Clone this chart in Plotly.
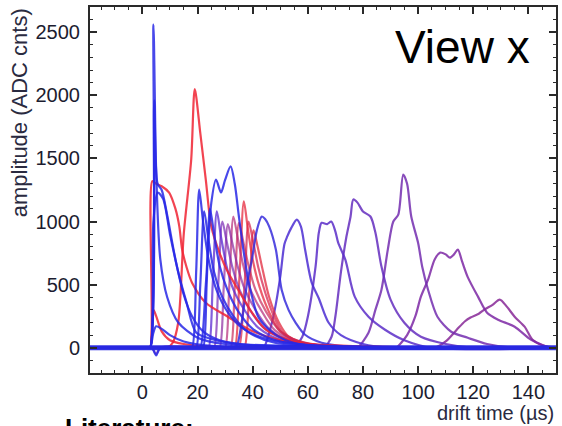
import plotly.graph_objects as go

# ---------------- data ----------------
# drift time (µs) / amplitude (ADC cnts) for each recorded waveform
w01_t = [-19, 1.8, 2.8, 4.0, 5.0, 6.5, 9, 13, 20, 30, 150]
w01_a = [0, 0, 0, 2560, 1400, 700, 400, 200, 80, 30, 0]
w02_t = [-19, 1.8, 2.8, 4.3, 5.5, 7, 9, 12, 15, 18, 22, 28, 40, 150]
w02_a = [0, 0, 0, 1960, 1300, 1250, 1050, 700, 420, 250, 130, 60, 20, 0]
w03_t = [-19, 1.8, 2.8, 4, 5.5, 7.5, 10, 13, 16, 19.5, 25, 35, 150]
w03_a = [0, 0, 0, 1000, 1230, 1180, 900, 600, 360, 120, 70, 30, 0]
w04_t = [-19, 1.8, 2.8, 4, 5, 7, 10, 15, 25, 150]
w04_a = [0, 0, 0, 120, 170, 150, 100, 50, 15, 0]
w05_t = [-19, 1.8, 2.8, 3.6, 5, 7, 9.7, 12, 13.4, 14.4, 16, 18, 23, 31, 40, 55, 150]
w05_a = [0, 0, 0, 1320, 1300, 1280, 1230, 1100, 960, 780, 640, 516, 357, 246, 130, 40, 0]
w06_t = [-19, 1.8, 2.8, 4, 5, 7, 10, 15, 25, 150]
w06_a = [0, 0, 0, 300, 250, 130, 60, 30, 10, 0]
w07_t = [-19, 8, 9, 11, 13, 15, 17.7, 19, 21, 23, 25, 28, 31, 35, 40, 45, 55, 70, 150]
w07_a = [0, 0, 0, 40, 200, 900, 1490, 2050, 1700, 1330, 960, 750, 600, 450, 270, 140, 50, 10, 0]
w08_t = [-19, 2.5, 3.5, 5, 6.5, 17, 18, 19.5, 20.6, 22, 24, 27, 31, 36, 45, 60, 150]
w08_a = [0, 0, 0, -60, 0, 0, 0, 600, 1254, 1000, 700, 450, 280, 160, 70, 20, 0]
w09_t = [-19, 18.5, 19.5, 21, 22.4, 24, 26, 29, 33, 38, 48, 150]
w09_a = [0, 0, 0, 500, 1080, 850, 600, 400, 250, 130, 40, 0]
w10_t = [-19, 20, 21, 23, 25, 26.7, 28.5, 30, 32, 33.5, 35, 36.8, 38.6, 42, 46, 52, 60, 150]
w10_a = [0, 0, 0, 500, 1150, 1333, 1230, 1330, 1437, 1300, 1040, 750, 516, 246, 143, 60, 20, 0]
w11_t = [-19, 21, 22, 23.3, 24.5, 26, 28, 31, 35, 40, 50, 150]
w11_a = [0, 0, 0, 500, 1100, 900, 650, 450, 280, 150, 50, 0]
w12_t = [-19, 23, 24, 25.5, 27, 28.5, 30.5, 33, 37, 42, 52, 150]
w12_a = [0, 0, 0, 500, 1080, 880, 650, 460, 300, 160, 50, 0]
w13_t = [-19, 2.5, 3.5, 5, 6.5, 25, 26, 27.5, 29, 30.5, 32.5, 35, 39, 44, 54, 150]
w13_a = [0, 0, 0, -50, 0, 0, 0, 500, 1000, 850, 650, 470, 300, 160, 50, 0]
w14_t = [-19, 27, 28, 29.5, 31, 32.5, 34.5, 37, 41, 46, 55, 150]
w14_a = [0, 0, 0, 480, 980, 840, 650, 470, 300, 150, 40, 0]
w15_t = [-19, 29, 30, 31.5, 33, 34.5, 36.5, 39, 43, 48, 57, 150]
w15_a = [0, 0, 0, 480, 1040, 880, 660, 470, 300, 140, 40, 0]
w16_t = [-19, 31, 32, 33.5, 35, 36.5, 38.5, 41, 45, 50, 58, 150]
w16_a = [0, 0, 0, 480, 990, 850, 650, 460, 280, 130, 40, 0]
w17_t = [-19, 32.5, 33.5, 35.2, 36.8, 38.2, 40, 42.5, 46, 50, 58, 150]
w17_a = [0, 0, 0, 560, 1160, 950, 700, 480, 280, 130, 40, 0]
w18_t = [-19, 34, 35, 37, 38.5, 40, 42, 44.5, 47.5, 51, 60, 150]
w18_a = [0, 0, 0, 480, 1000, 860, 640, 440, 260, 119, 35, 0]
w19_t = [-19, 36, 37, 38.8, 40.3, 41.8, 43.8, 46, 49.5, 53, 62, 150]
w19_a = [0, 0, 0, 460, 930, 800, 600, 400, 200, 90, 25, 0]
w20_t = [-19, 33, 34, 36, 38, 39.7, 41.5, 43.3, 44.5, 46, 48.4, 50.5, 53, 55.6, 59, 65, 75, 150]
w20_a = [0, 0, 0, 200, 516, 698, 930, 1040, 1020, 960, 778, 460, 300, 198, 103, 40, 10, 0]
w21_t = [-19, 43, 44, 46, 48, 50, 51.5, 52.5, 54, 56, 57.5, 59, 61.4, 64, 67.5, 72, 80, 90, 150]
w21_a = [0, 0, 0, 120, 300, 563, 820, 880, 950, 1016, 960, 778, 516, 390, 200, 100, 30, 0, 0]
w22_t = [-19, 54, 55, 58, 60, 62.8, 64, 65, 67, 68.5, 70, 71, 73.6, 77, 82, 88, 95, 105, 150]
w22_a = [0, 0, 0, 87, 246, 643, 913, 990, 980, 1000, 920, 833, 698, 405, 246, 143, 60, 0, 0]
w23_t = [-19, 65, 66, 68.6, 70, 72, 74, 75.5, 76.5, 78, 80, 82.7, 84.5, 86.7, 90, 95, 101, 110, 120, 150]
w23_a = [0, 0, 0, 87, 250, 600, 881, 1040, 1175, 1150, 1080, 1040, 913, 643, 381, 198, 87, 30, 0, 0]
w24_t = [-19, 77, 78, 82, 84.5, 86.7, 89, 91, 92.8, 94.6, 96, 97.5, 100, 101.5, 103.6, 107, 112, 118, 125, 135, 150]
w24_a = [0, 0, 0, 119, 300, 460, 778, 1000, 1055, 1373, 1300, 1040, 830, 640, 460, 246, 127, 79, 30, 0, 0]
w25_t = [-19, 91, 92, 96, 99, 101, 103.6, 106, 108, 110, 111.5, 113, 114.4, 116, 118, 121.7, 125, 129, 135, 141, 148, 150]
w25_a = [0, 0, 0, 100, 250, 405, 540, 700, 754, 740, 714, 740, 778, 680, 560, 405, 278, 222, 167, 63, 0, 0]
w26_t = [-19, 105, 106, 110, 114, 117, 119, 122, 124, 127, 129.6, 132, 135, 138.6, 141.5, 145, 150]
w26_a = [0, 0, 0, 50, 143, 210, 240, 270, 302, 340, 381, 330, 246, 167, 63, 20, 0]
baseline_t = [-19, 150]
baseline_a = [0, 0]

x_ticks = [0, 20, 40, 60, 80, 100, 120, 140]
y_ticks = [0, 500, 1000, 1500, 2000, 2500]

# ---------------- styling ----------------
BLUE = "rgba(40,40,230,0.85)"
RED = "rgba(240,35,50,0.85)"
waves = [
    (w26_t, w26_a, "rgba(135,40,150,0.85)"),
    (w25_t, w25_a, "rgba(125,40,165,0.85)"),
    (w24_t, w24_a, "rgba(115,45,175,0.85)"),
    (w23_t, w23_a, "rgba(100,45,190,0.85)"),
    (w22_t, w22_a, "rgba(90,45,200,0.85)"),
    (w21_t, w21_a, "rgba(75,45,210,0.85)"),
    (w19_t, w19_a, "rgba(225,40,60,0.75)"),
    (w18_t, w18_a, "rgba(215,40,80,0.75)"),
    (w17_t, w17_a, "rgba(230,40,60,0.75)"),
    (w16_t, w16_a, "rgba(200,40,90,0.7)"),
    (w15_t, w15_a, "rgba(180,40,120,0.7)"),
    (w14_t, w14_a, "rgba(140,40,160,0.7)"),
    (w13_t, w13_a, "rgba(120,40,180,0.7)"),
    (w12_t, w12_a, "rgba(90,40,210,0.75)"),
    (w20_t, w20_a, "rgba(55,45,220,0.85)"),
    (w07_t, w07_a, RED),
    (w05_t, w05_a, RED),
    (w06_t, w06_a, RED),
    (w11_t, w11_a, BLUE),
    (w09_t, w09_a, BLUE),
    (w10_t, w10_a, BLUE),
    (w08_t, w08_a, BLUE),
    (w04_t, w04_a, BLUE),
    (w03_t, w03_a, BLUE),
    (w02_t, w02_a, BLUE),
    (w01_t, w01_a, BLUE),
]

fig = go.Figure()
for t, a, c in waves:
    fig.add_trace(go.Scatter(x=t, y=a, mode="lines",
                             line=dict(color=c, width=2.2, shape="spline",
                                       smoothing=0.8),
                             hoverinfo="skip"))
fig.add_trace(go.Scatter(x=baseline_t, y=baseline_a, mode="lines",
                         line=dict(color="rgba(40,40,225,0.95)", width=5),
                         hoverinfo="skip"))

FONT = "Liberation Sans, Arial, Helvetica, sans-serif"
TXT = "#1c1c30"
axis_common = dict(
    showline=True, linecolor="#2a2a2a", linewidth=2, mirror="ticks",
    ticks="inside", ticklen=7, tickwidth=1.5, tickcolor="#2a2a2a",
    showgrid=False, zeroline=False,
    tickfont=dict(family=FONT, size=20, color=TXT),
)
fig.update_xaxes(range=[-19, 150], tickvals=x_ticks,
                 minor=dict(dtick=5, tick0=0, ticks="inside", ticklen=3,
                            tickwidth=1, tickcolor="#2a2a2a"),
                 **axis_common)
fig.update_yaxes(range=[-200, 2700], tickvals=y_ticks, ticklabelstandoff=4,
                 minor=dict(dtick=100, tick0=0, ticks="inside", ticklen=3,
                            tickwidth=1, tickcolor="#2a2a2a"),
                 **axis_common)

fig.update_layout(
    width=562, height=426,
    margin=dict(l=90, r=4, t=7, b=53),
    plot_bgcolor="white", paper_bgcolor="white",
    showlegend=False,
    font=dict(family=FONT, color=TXT),
    annotations=[
        dict(text="amplitude (ADC cnts)", xref="paper", yref="paper",
             x=-0.152, y=0.71, xanchor="center", yanchor="middle",
             textangle=-90, showarrow=False,
             font=dict(family=FONT, size=22, color="#2a2a40")),
        dict(text="drift time (µs)", xref="paper", yref="paper",
             x=1.0, y=-0.11, xanchor="right", yanchor="middle",
             showarrow=False, font=dict(family=FONT, size=20, color="#2a2a40")),
        dict(text="<b>Literature:</b>", xref="paper", yref="paper",
             x=-0.058, y=-0.105, xanchor="left", yanchor="top",
             showarrow=False, font=dict(family=FONT, size=26, color="black")),
        dict(text="View x", xref="paper", yref="paper",
             x=0.799, y=0.891, xanchor="center", yanchor="middle",
             showarrow=False, font=dict(family=FONT, size=46, color="black")),
    ],
)

fig.write_html("out.html", config={"displayModeBar": False},
               post_script="document.body.style.margin='0px';")
